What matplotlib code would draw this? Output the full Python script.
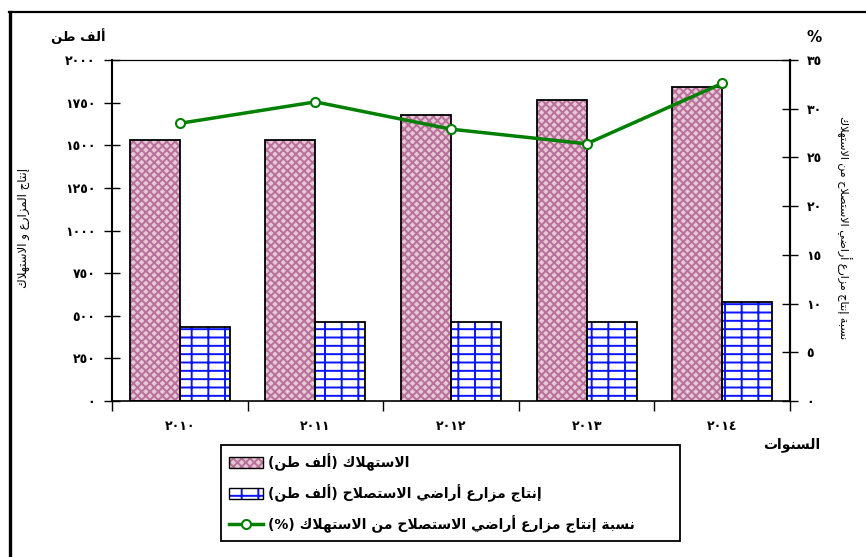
import numpy as np
import matplotlib
matplotlib.use("Agg")
import matplotlib.pyplot as plt
from matplotlib.patches import Patch
from matplotlib.lines import Line2D

# data
years = ['2010', '2011', '2012', '2013', '2014']
consumption = [1528, 1528, 1680, 1765, 1840]      # thousand tons
production = [436, 465, 465, 465, 582]            # thousand tons
ratio = [28.5, 30.7, 27.9, 26.4, 32.6]            # percent

left_ticks = list(range(0, 2001, 250))
right_ticks = list(range(0, 36, 5))

# --- a small arabic shaper (no arabic_reshaper available) ---
FORMS = {
    'ء': (0xFE80, 1), 'آ': (0xFE81, 2), 'أ': (0xFE83, 2), 'ؤ': (0xFE85, 2),
    'إ': (0xFE87, 2), 'ئ': (0xFE89, 4), 'ا': (0xFE8D, 2), 'ب': (0xFE8F, 4),
    'ة': (0xFE93, 2), 'ت': (0xFE95, 4), 'ث': (0xFE99, 4), 'ج': (0xFE9D, 4),
    'ح': (0xFEA1, 4), 'خ': (0xFEA5, 4), 'د': (0xFEA9, 2), 'ذ': (0xFEAB, 2),
    'ر': (0xFEAD, 2), 'ز': (0xFEAF, 2), 'س': (0xFEB1, 4), 'ش': (0xFEB5, 4),
    'ص': (0xFEB9, 4), 'ض': (0xFEBD, 4), 'ط': (0xFEC1, 4), 'ظ': (0xFEC5, 4),
    'ع': (0xFEC9, 4), 'غ': (0xFECD, 4), 'ف': (0xFED1, 4), 'ق': (0xFED5, 4),
    'ك': (0xFED9, 4), 'ل': (0xFEDD, 4), 'م': (0xFEE1, 4), 'ن': (0xFEE5, 4),
    'ه': (0xFEE9, 4), 'و': (0xFEED, 2), 'ى': (0xFEEF, 2), 'ي': (0xFEF1, 4),
}
LAM_ALEF = {'آ': 0xFEF5, 'أ': 0xFEF7, 'إ': 0xFEF9, 'ا': 0xFEFB}
MIRROR = {'(': ')', ')': '('}


def info(item):
    if isinstance(item, tuple):
        return (item[1], 2)
    return FORMS.get(item)


def ar(text):
    items = []
    i = 0
    while i < len(text):
        c = text[i]
        if c == 'ل' and i + 1 < len(text) and text[i + 1] in LAM_ALEF:
            items.append(('LA', LAM_ALEF[text[i + 1]]))
            i += 2
        else:
            items.append(c)
            i += 1
    out = []
    for k, item in enumerate(items):
        inf = info(item)
        if inf is None:
            out.append(MIRROR.get(item, item))
            continue
        start, n = inf
        prev = info(items[k - 1]) if k > 0 else None
        nxt = info(items[k + 1]) if k + 1 < len(items) else None
        jp = prev is not None and prev[1] == 4 and n > 1
        jn = n == 4 and nxt is not None and nxt[1] > 1
        if jp and jn:
            code = start + 3
        elif jp:
            code = start + 1
        elif jn:
            code = start + 2
        else:
            code = start
        out.append(chr(code))
    return ''.join(out[::-1])


DIGITS = str.maketrans('0123456789', '٠١٢٣٤٥٦٧٨٩')


def ad(v):
    return str(v).translate(DIGITS)


plt.rcParams['font.family'] = ['DejaVu Sans']
plt.rcParams['font.weight'] = 'bold'
plt.rcParams['hatch.linewidth'] = 1.4

W, H = 866, 557
fig = plt.figure(figsize=(W / 100, H / 100), dpi=100)
ax = fig.add_axes([112 / W, 1 - 401 / H, (790 - 112) / W, (401 - 60) / H])
ax2 = ax.twinx()

x = np.arange(len(years))
bw = 0.368
cons_face = '#e6c8d6'
cons_hatch = '#b8709a'
prod_hatch = '#0a14ff'

ax.bar(x - bw / 2, consumption, bw, color=cons_face, edgecolor=cons_hatch,
       hatch='xxxx', linewidth=0, zorder=2)
ax.bar(x - bw / 2, consumption, bw, fill=False, edgecolor='black',
       linewidth=1.3, zorder=3)
ax.bar(x + bw / 2, production, bw, color='white', edgecolor=prod_hatch,
       hatch='--|', linewidth=0, zorder=2)
ax.bar(x + bw / 2, production, bw, fill=False, edgecolor='black',
       linewidth=1.3, zorder=3)

ax2.plot(x, ratio, color='#008000', lw=2.5, marker='o', ms=6.5,
         mfc='white', mec='#008000', mew=1.5, zorder=5)

ax.set_xlim(-0.5, len(years) - 0.5)
ax.set_ylim(0, 2000)
ax2.set_ylim(0, 35)

ax.set_yticks(left_ticks)
ax.set_yticklabels([ad(v) for v in left_ticks], fontsize=9, fontweight='bold')
ax2.set_yticks(right_ticks)
ax2.set_yticklabels([ad(v) for v in right_ticks], fontsize=9, fontweight='bold')

ax.set_xticks(np.arange(-0.5, len(years), 1.0))
ax.set_xticklabels([])
ax.set_xticks(x, minor=True)
ax.set_xticklabels([ad(y) for y in years], minor=True, fontsize=9,
                   fontweight='bold')
ax.tick_params(axis='x', which='major', direction='out', length=7, width=1)
ax.tick_params(axis='x', which='minor', length=0, pad=14)
ax.tick_params(axis='y', direction='inout', length=12, width=1, pad=6)
ax2.tick_params(axis='y', direction='inout', length=12, width=1, pad=6)

for s in ['left', 'right']:
    ax.spines[s].set_linewidth(1.5)
ax.spines['top'].set_linewidth(0.9)
ax.spines['bottom'].set_linewidth(1.2)
for s in ['left', 'top', 'bottom']:
    ax2.spines[s].set_visible(False)
ax2.spines['right'].set_linewidth(1.5)

# axis titles
fig.text(78 / W, 1 - 36 / H, ar('ألف طن'), ha='center', va='center',
         fontsize=9.5, fontweight='bold')
fig.text(814 / W, 1 - 37 / H, '%', ha='center', va='center',
         fontsize=11, fontweight='bold')
fig.text(24 / W, 1 - 228 / H, ar('إنتاج المزارع و الاستهلاك'), rotation=90,
         ha='center', va='center', fontsize=8.5, fontweight='normal')
fig.text(844 / W, 1 - 228 / H, ar('نسبة إنتاج مزارع أراضي الاستصلاح من الاستهلاك'),
         rotation=-90, ha='center', va='center', fontsize=8, fontweight='normal')
fig.text(820 / W, 1 - 445 / H, ar('السنوات'), ha='right', va='center',
         fontsize=10, fontweight='bold')

# legend
h_cons = (Patch(facecolor=cons_face, edgecolor=cons_hatch, hatch='xxxx', lw=0),
          Patch(fill=False, edgecolor='black', lw=1))
h_prod = (Patch(facecolor='white', edgecolor=prod_hatch, hatch='--|', lw=0),
          Patch(fill=False, edgecolor='black', lw=1))
h_line = Line2D([], [], color='#008000', lw=2.5, marker='o', ms=6.5,
                mfc='white', mec='#008000', mew=1.5)
leg = fig.legend([h_cons, h_prod, h_line],
                 [ar('الاستهلاك (ألف طن)'),
                  ar('إنتاج مزارع أراضي الاستصلاح (ألف طن)'),
                  ar('نسبة إنتاج مزارع أراضي الاستصلاح من الاستهلاك (%)')],
                 loc='upper left', mode='expand', borderaxespad=0,
                 bbox_to_anchor=(221 / W, 1 - 545 / H, 459 / W, 100 / H),
                 fancybox=False, edgecolor='black', framealpha=1,
                 prop={'size': 10, 'weight': 'bold'}, handlelength=2.4,
                 handleheight=0.8, labelspacing=0.95, borderpad=0.6,
                 handletextpad=0.4, numpoints=1)
leg.get_frame().set_linewidth(1.3)

# outer frame (cropped box: top and left edges)
fig.add_artist(Line2D([9 / W, 1], [1 - 12 / H, 1 - 12 / H], color='black',
                      lw=1.6, transform=fig.transFigure))
fig.add_artist(Line2D([10 / W, 10 / W], [0, 1 - 12 / H], color='black',
                      lw=2.4, transform=fig.transFigure))

fig.savefig('out.png', dpi=100)
